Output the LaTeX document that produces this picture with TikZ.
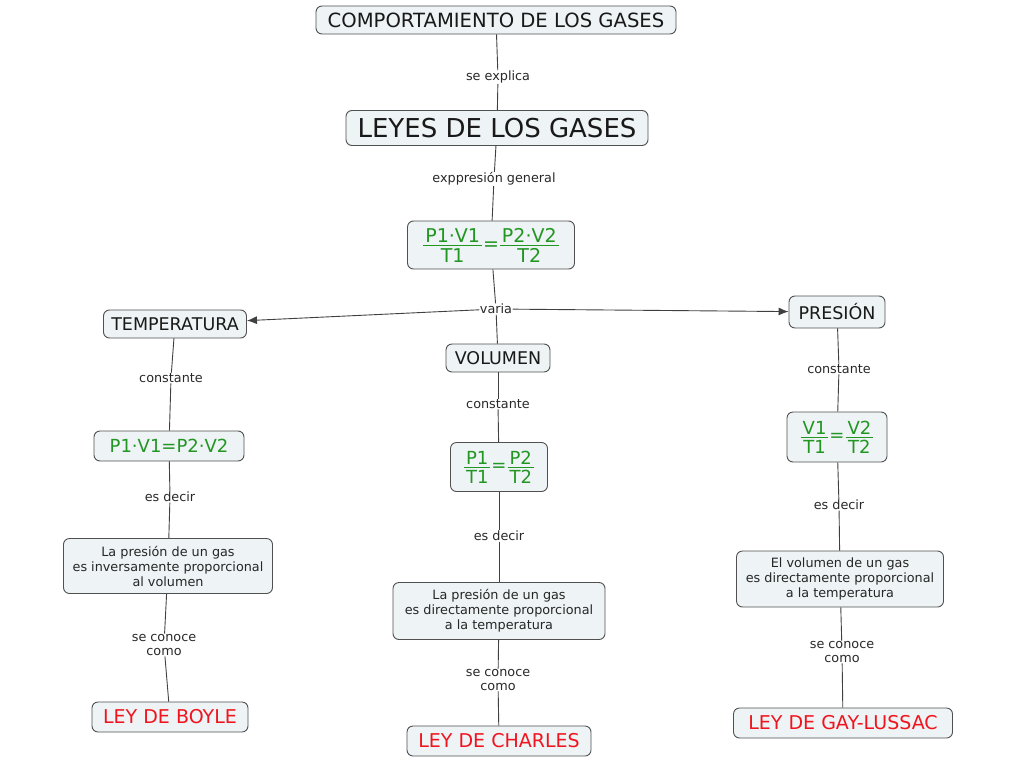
\documentclass[tikz,border=0pt]{standalone}
\usepackage{fontspec}
\setmainfont{DejaVu Sans}
\usetikzlibrary{arrows.meta}
\definecolor{boxfill}{RGB}{238,243,245}
\definecolor{boxline}{RGB}{80,80,80}
\definecolor{eqgreen}{RGB}{34,150,34}
\definecolor{lawred}{RGB}{240,20,30}
\definecolor{lbltext}{RGB}{40,40,40}
\newcommand\myfr[2]{\lower11.6pt\vbox{\halign{\hfil\kern2pt##\kern2pt\hfil\cr #1\cr\noalign{\kern3pt\hrule height 1pt\kern2pt}#2\cr}}}
\tikzset{
  concept/.style={draw=boxline, fill=boxfill, rounded corners=6pt, line width=0.9pt, inner sep=2pt, align=center},
  lbl/.style={inner sep=0.5pt, text=lbltext, font=\fontsize{12.8}{14}\selectfont, align=center},
  conn/.style={draw=black!75, line width=0.9pt},
  eq/.style={concept, text=eqgreen, font=\fontsize{18}{20}\selectfont},
  law/.style={concept, text=lawred, font=\fontsize{19}{22}\selectfont},
  desc/.style={concept, text=black!85, font=\fontsize{12.8}{15}\selectfont},
  head/.style={concept, text=black!90, font=\fontsize{17.5}{20}\selectfont}
}
\begin{document}
\begin{tikzpicture}[x=1pt,y=-1pt]
\useasboundingbox (0,0) rectangle (1024,768);
% main nodes
\node[concept, text=black!90, font=\fontsize{19.6}{22}\selectfont, minimum width=360, minimum height=28] (top) at (496,20) {COMPORTAMIENTO DE LOS GASES};
\node[concept, text=black!90, font=\fontsize{26}{30}\selectfont, minimum width=302, minimum height=35] (leyes) at (497,128) {LEYES DE LOS GASES};
\node[eq, font=\fontsize{19}{21}\selectfont, minimum width=167, minimum height=48] (gen) at (491,245) {\myfr{P1·V1}{T1}\kern1pt=\kern1pt\myfr{P2·V2}{T2}};
\node[head, minimum width=143, minimum height=28] (temp) at (175,324) {TEMPERATURA};
\node[head, minimum width=104, minimum height=28] (vol) at (498,358) {VOLUMEN};
\node[head, minimum width=96, minimum height=32] (pres) at (837,312) {PRESIÓN};
% left column
\node[eq, minimum width=150, minimum height=30] (f1) at (169,446) {P1·V1=P2·V2};
\node[desc, minimum width=209, minimum height=55] (t1) at (168,566) {La presión de un gas\\es inversamente proporcional\\al volumen};
\node[law, minimum width=156, minimum height=30] (boyle) at (170,717) {LEY DE BOYLE};
% middle column
\node[eq, minimum width=97, minimum height=49] (f2) at (499,467) {\myfr{P1}{T1}\kern1pt=\kern1pt\myfr{P2}{T2}};
\node[desc, minimum width=212, minimum height=57] (t2) at (499,611) {La presión de un gas\\es directamente proporcional\\a la temperatura};
\node[law, minimum width=184, minimum height=30] (charles) at (499,741) {LEY DE CHARLES};
% right column
\node[eq, minimum width=100, minimum height=50] (f3) at (837,437) {\myfr{V1}{T1}\kern1pt=\kern1pt\myfr{V2}{T2}};
\node[desc, minimum width=207, minimum height=56] (t3) at (840,579) {El volumen de un gas\\es directamente proporcional\\a la temperatura};
\node[law, minimum width=219, minimum height=30] (gay) at (843,723) {LEY DE GAY-LUSSAC};
% link labels
\node[lbl] (lexp) at (498,77) {se explica};
\node[lbl] (lgen) at (494,179) {exppresión general};
\node[lbl] (varia) at (496,309) {varia};
\node[lbl] (c1) at (171,378) {constante};
\node[lbl] (d1) at (170,497) {es decir};
\node[lbl] (k1) at (164,645) {se conoce\\como};
\node[lbl] (c2) at (498,404) {constante};
\node[lbl] (d2) at (499,536) {es decir};
\node[lbl] (k2) at (498,680) {se conoce\\como};
\node[lbl] (c3) at (839,369) {constante};
\node[lbl] (d3) at (839,505) {es decir};
\node[lbl] (k3) at (842,652) {se conoce\\como};
% connectors
\draw[conn] (top) -- (lexp); \draw[conn] (lexp) -- (leyes);
\draw[conn] (leyes) -- (lgen); \draw[conn] (lgen) -- (gen);
\draw[conn] (gen) -- (varia); \draw[conn] (varia) -- (vol);
\draw[conn, -{Latex[length=10pt,width=8pt]}] (varia) -- (temp);
\draw[conn, -{Latex[length=10pt,width=8pt]}] (varia) -- (pres);
\draw[conn] (temp) -- (c1); \draw[conn] (c1) -- (f1);
\draw[conn] (f1) -- (d1); \draw[conn] (d1) -- (t1);
\draw[conn] (t1) -- (k1); \draw[conn] (k1) -- (boyle);
\draw[conn] (vol) -- (c2); \draw[conn] (c2) -- (f2);
\draw[conn] (f2) -- (d2); \draw[conn] (d2) -- (t2);
\draw[conn] (t2) -- (k2); \draw[conn] (k2) -- (charles);
\draw[conn] (pres) -- (c3); \draw[conn] (c3) -- (f3);
\draw[conn] (f3) -- (d3); \draw[conn] (d3) -- (t3);
\draw[conn] (t3) -- (k3); \draw[conn] (k3) -- (gay);
\end{tikzpicture}
\end{document}
